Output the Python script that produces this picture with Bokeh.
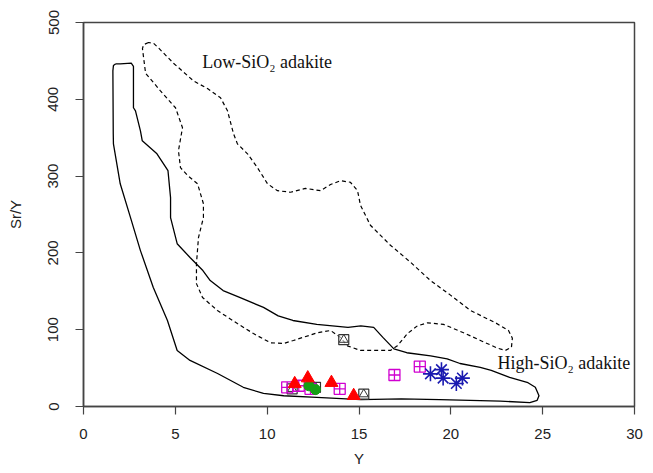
from bokeh.plotting import figure
from bokeh.models import Range1d, FixedTicker, Label
from bokeh.embed import file_html
from bokeh.resources import INLINE

# High-SiO2 adakite field (solid outline)
high_x = [1.74, 1.63, 1.6, 1.62, 1.63, 2.0, 2.56, 3.1, 3.8, 4.57, 5.1, 5.8, 7.3, 8.7, 9.8,
          10.9, 12.7, 15.1, 17.3, 19.4, 22.7, 24.3, 24.7, 24.8, 24.6, 24.2, 23.2, 22.2,
          21.6, 20.5, 19.8, 18.9, 17.6, 16.9, 16.3, 15.8, 15.1, 14.4, 12.7, 11.4, 10.6,
          9.8, 8.5, 7.6, 6.9, 6.5, 5.8, 5.1, 4.74, 4.74, 4.6, 4.0, 3.2, 3.1, 2.83, 2.72,
          2.72, 2.6, 2.0, 1.74]
high_y = [446, 444, 437, 355, 342, 290, 246, 203, 155, 112, 73, 60, 43, 25, 17,
          14, 12, 9, 10, 9, 7, 5, 8, 14, 25, 31, 38, 47,
          51, 56, 62, 66, 70, 75, 90, 103, 105, 103, 107, 112, 118,
          129, 142, 151, 164, 177, 194, 212, 246, 272, 307, 329, 346, 359, 385, 389,
          443, 447, 446, 446]

# Low-SiO2 adakite field (dashed outline)
low_x = [3.54, 3.27, 3.21, 3.38, 4.19, 5.01, 5.39, 5.17, 5.28, 5.66, 6.21, 6.53, 6.53,
         6.26, 6.15, 6.15, 6.48, 7.29, 8.38, 9.25, 10.18, 10.89, 11.43, 12.74, 13.45,
         13.99, 14.37, 15.08, 16.71, 17.09, 17.64, 18.18, 18.73, 19.6, 20.69, 21.61,
         22.54, 22.97, 23.3, 23.35, 23.14, 22.43, 21.07, 19.98, 18.89, 17.8, 16.71,
         15.62, 15.08, 14.92, 14.53, 13.99, 13.45, 12.9, 12.08, 11.27, 10.56, 10.02,
         9.47, 8.93, 8.38, 8.17, 7.84, 7.46, 6.75, 5.99, 4.9, 4.08, 3.81, 3.54]
low_y = [474, 471, 466, 434, 411, 389, 363, 333, 311, 301, 290, 264, 246,
         220, 186, 160, 142, 125, 108, 95, 83, 82, 86, 96, 99,
         90, 79, 73, 73, 79, 95, 105, 109, 107, 96, 86,
         76, 73, 77, 89, 99, 109, 125, 145, 164, 188, 210,
         236, 262, 281, 292, 294, 289, 281, 284, 279, 281, 290,
         311, 329, 342, 355, 385, 402, 414, 424, 447, 467, 473, 474]

# Samples
mag_x = [11.09, 11.72, 12.36, 13.95, 16.93, 18.31]
mag_y = [25, 27, 23, 23, 41, 52]
gry_x = [14.17, 15.26, 11.36, 12.63]
gry_y = [87, 16, 23, 25]
red_x = [11.5, 12.21, 13.5, 14.71]
red_y = [29.5, 37, 31, 14]
grn_x = [12.27, 12.63]
grn_y = [27, 22]
blu_x = [18.89, 19.49, 19.58, 20.3, 20.63]
blu_y = [42.5, 48, 37, 30, 37]

x_ticks = [0, 5, 10, 15, 20, 25, 30]
y_ticks = [0, 100, 200, 300, 400, 500]

p = figure(width=645, height=470, output_backend="svg", toolbar_location=None,
           x_range=Range1d(0, 30), y_range=Range1d(0, 500),
           min_border_left=83, min_border_right=11, min_border_top=22, min_border_bottom=64)
p.grid.visible = False
p.background_fill_color = "white"
p.border_fill_color = "white"
p.outline_line_color = "#444444"
p.outline_line_width = 1.5

for ax in (p.xaxis[0], p.yaxis[0]):
    ax.axis_line_color = "#444444"
    ax.axis_line_width = 1.5
    ax.major_tick_line_color = "#444444"
    ax.major_tick_line_width = 1.2
    ax.major_tick_out = 8
    ax.major_tick_in = 0
    ax.minor_tick_line_color = None
    ax.major_label_text_font = "Liberation Sans"
    ax.major_label_text_font_size = "15px"
    ax.major_label_text_color = "#222222"
    ax.axis_label_text_font = "Liberation Sans"
    ax.axis_label_text_font_size = "15px"
    ax.axis_label_text_font_style = "normal"
    ax.axis_label_text_color = "#222222"

p.xaxis.ticker = FixedTicker(ticks=x_ticks)
p.yaxis.ticker = FixedTicker(ticks=y_ticks)
p.xaxis.axis_label = "Y"
p.yaxis.axis_label = "Sr/Y"
p.xaxis.major_label_standoff = 14
p.xaxis.axis_label_standoff = 8
p.yaxis.major_label_orientation = "vertical"
p.yaxis.major_label_standoff = 17
p.yaxis.axis_label_standoff = 22

p.line(high_x, high_y, line_color="black", line_width=1.3)
p.line(low_x, low_y, line_color="black", line_width=1.2, line_dash="4 3")

# gray boxed triangles
p.scatter(gry_x, gry_y, marker="square", size=10, fill_color="white", fill_alpha=0.6,
          line_color="#333333", line_width=1.2)
p.scatter(gry_x, gry_y, marker="triangle", size=9, fill_color=None,
          line_color="#333333", line_width=1.0)
p.scatter(mag_x, mag_y, marker="square_cross", size=11, fill_color=None,
          line_color="#D000D0", line_width=1.3)
p.scatter(grn_x, grn_y, marker="circle", size=10, fill_color="#14A014",
          line_color="#14A014")
p.scatter(red_x, red_y, marker="triangle", size=13, fill_color="#FF0000",
          line_color="#FF0000")
p.scatter(blu_x, blu_y, marker="asterisk", size=15, line_color="#1A1AB0", line_width=1.6)

p.add_layout(Label(x=6.46, y=436, text="Low-SiO\u2082 adakite", text_font="Liberation Serif",
                   text_font_size="18px", text_color="#111111"))
p.add_layout(Label(x=22.54, y=43, text="High-SiO\u2082 adakite", text_font="Liberation Serif",
                   text_font_size="18px", text_color="#111111"))

open("out.html", "w").write(file_html(p, INLINE))
